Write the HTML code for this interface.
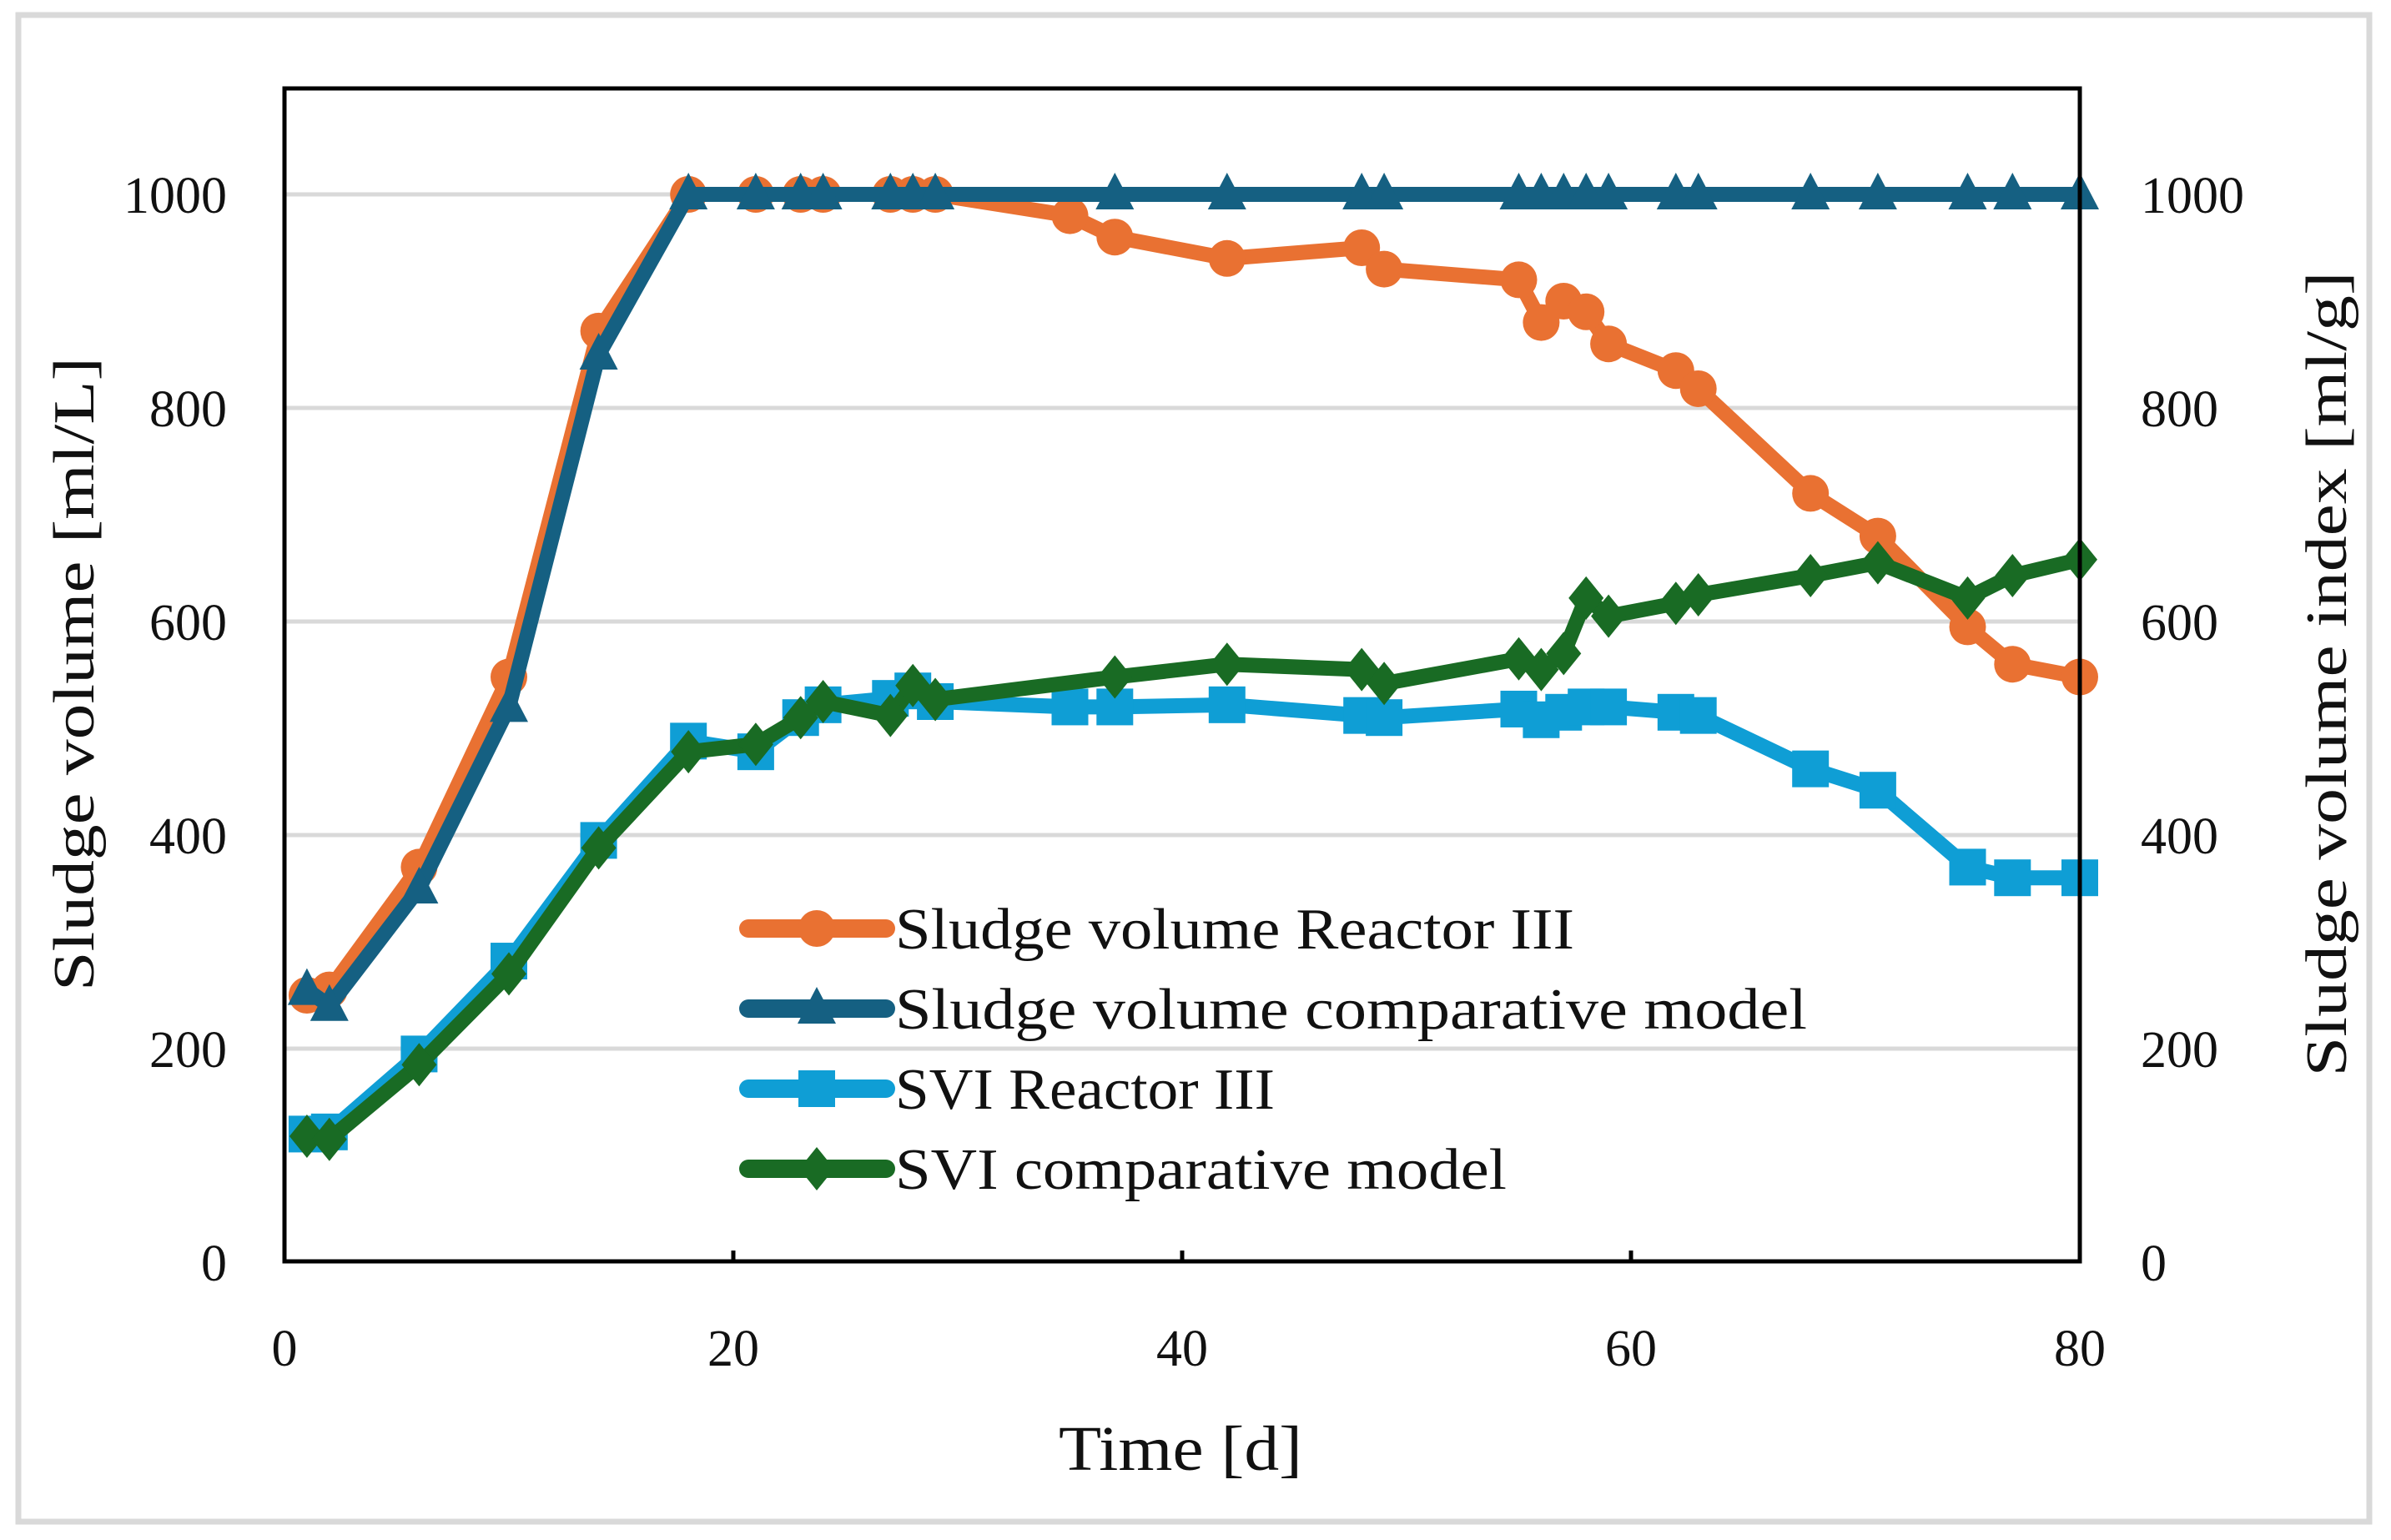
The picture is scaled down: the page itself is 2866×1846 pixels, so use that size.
<!DOCTYPE html>
<html><head><meta charset="utf-8"><style>
html,body{margin:0;padding:0;background:#fff}
svg{display:block}
text{font-family:"Liberation Serif",serif;fill:#111}
</style></head><body>
<svg id="chart" width="2866" height="1846" viewBox="0 0 2866 1846" xmlns="http://www.w3.org/2000/svg">
<rect x="22" y="18" width="2818" height="1806" fill="#fff" stroke="#d9d9d9" stroke-width="7"/>
<g id="grid"></g>
<g id="series"></g>
<rect x="341" y="106" width="2152" height="1406" fill="none" stroke="#000" stroke-width="5"/>
<g id="axes"></g>
<text transform="translate(112,808) rotate(-90)" text-anchor="middle" font-size="70" textLength="760" lengthAdjust="spacingAndGlyphs">Sludge volume [ml/L]</text>
<text transform="translate(2812,808) rotate(-90)" text-anchor="middle" font-size="70" textLength="965" lengthAdjust="spacingAndGlyphs">Sludge volume index [ml/g]</text>
<text x="1415" y="1762" text-anchor="middle" font-size="76" textLength="292" lengthAdjust="spacingAndGlyphs">Time [d]</text>
<g id="legend"></g>
</svg>
<script>
const days = [1,2,6,10,14,18,21,23,24,27,28,29,35,37,42,48,49,55,56,57,58,59,62,63,68,71,75,77,80];
const daysModel = [1,2,6,10,14,18,21,23,24,27,28,29,37,42,48,49,55,56,57,58,59,62,63,68,71,75,77,80];
const svReactor = [250,255,370,548,872,1000,1000,1000,1000,1000,1000,1000,980,960,940,950,930,920,880,900,890,860,835,818,720,680,595,560,548];
const svModel = [255,240,350,520,850,1000,1000,1000,1000,1000,1000,1000,1000,1000,1000,1000,1000,1000,1000,1000,1000,1000,1000,1000,1000,1000,1000,1000];
const sviReactor = [120,122,195,282,395,488,478,510,522,528,535,525,520,520,522,512,510,518,508,515,520,520,515,512,462,442,370,360,360];
const sviModel = [118,115,185,270,388,478,485,510,525,512,540,527,548,560,555,542,565,555,570,622,605,617,625,643,655,622,643,658];
const yTicks = [0,200,400,600,800,1000];
const xTicks = [0,20,40,60,80];
const legendLabels = ["Sludge volume Reactor III","Sludge volume comparative model","SVI Reactor III","SVI comparative model"];

const NS="http://www.w3.org/2000/svg";
const X0=341,X1=2493,Y0=1513,PXU=1.28;
const xs=d=>X0+(X1-X0)*d/80;
const ys=v=>Y0-v*PXU;
function mk(tag,attrs,parent){const e=document.createElementNS(NS,tag);for(const k in attrs)e.setAttribute(k,attrs[k]);parent.appendChild(e);return e;}
const grid=document.getElementById('grid'),axes=document.getElementById('axes'),ser=document.getElementById('series'),leg=document.getElementById('legend');
yTicks.forEach(v=>{
  if(v>0){const g=mk('line',{x1:X0,x2:X1,y1:ys(v),y2:ys(v),stroke:'#d9d9d9','stroke-width':5},grid);
  
  }
  const t=mk('text',{x:272,y:ys(v)+22,'text-anchor':'end','font-size':62},axes);t.textContent=v;
  
  
  const t2=mk('text',{x:2566,y:ys(v)+22,'text-anchor':'start','font-size':62},axes);t2.textContent=v;
  
  
});
xTicks.forEach(d=>{
  const tk=mk('line',{x1:xs(d),x2:xs(d),y1:Y0,y2:Y0-14,stroke:'#000','stroke-width':5},axes);
  
  
  const t=mk('text',{x:xs(d),y:1637,'text-anchor':'middle','font-size':62},axes);t.textContent=d;
  
  
});
function marker(type,cx,cy,col,parent){
  if(type==='circle')return mk('circle',{cx:cx,cy:cy,r:22,fill:col},parent);
  if(type==='tri')return mk('polygon',{points:`${cx},${cy-26} ${cx+23},${cy+18} ${cx-23},${cy+18}`,fill:col},parent);
  if(type==='square')return mk('rect',{x:cx-22,y:cy-22,width:44,height:44,fill:col},parent);
  return mk('polygon',{points:`${cx},${cy-26} ${cx+21},${cy} ${cx},${cy+26} ${cx-21},${cy}`,fill:col},parent);
}
const legendLen=[814,1093,455,733];
const defs=[
 {name:'sv-reactor',x:days,y:svReactor,col:'#E97132',m:'circle'},
 {name:'sv-model',x:daysModel,y:svModel,col:'#156082',m:'tri'},
 {name:'svi-reactor',x:days,y:sviReactor,col:'#0F9ED5',m:'square'},
 {name:'svi-model',x:daysModel,y:sviModel,col:'#196B24',m:'diamond'}];
defs.forEach((s,i)=>{
  const g=mk('g',{},ser);
  
  
  const pts=s.x.map((d,j)=>xs(d)+','+ys(s.y[j])).join(' ');
  const pl=mk('polyline',{points:pts,fill:'none',stroke:s.col,'stroke-width':18,'stroke-linejoin':'round','stroke-linecap':'round'},g);
  
  
  s.x.forEach((d,j)=>{
    const m=marker(s.m,xs(d),ys(s.y[j]),s.col,g);
    
    
  });
  const ly=[1113,1209,1305,1401][i];
  const lg=mk('g',{},leg);
  
  
  mk('line',{x1:897,x2:1062,y1:ly,y2:ly,stroke:s.col,'stroke-width':22,'stroke-linecap':'round'},lg);
  marker(s.m,979,ly,s.col,lg);
  const t=mk('text',{x:1073,y:ly+24,'font-size':70,textLength:legendLen[i],lengthAdjust:'spacingAndGlyphs'},lg);t.textContent=legendLabels[i];
});
</script>
</body></html>
